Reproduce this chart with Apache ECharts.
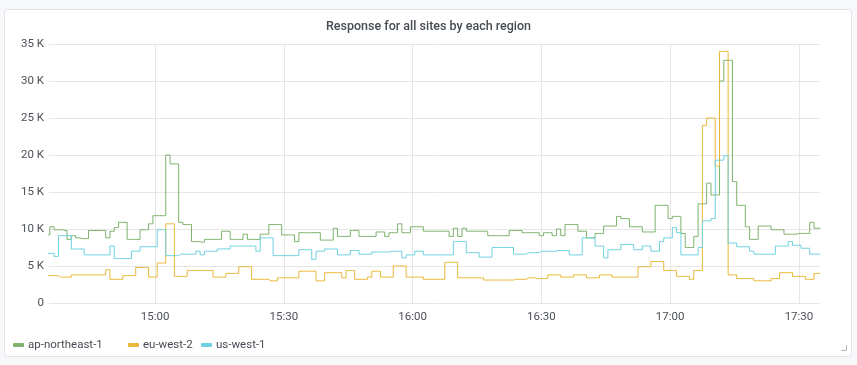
<!DOCTYPE html>
<html>
<head>
<meta charset="utf-8">
<script src="https://cdn.jsdelivr.net/npm/echarts@6/dist/echarts.min.js"></script>
<style>
html,body{margin:0;padding:0;background:#f7f8fa;}
#c{width:857px;height:365px;}
</style>
</head>
<body>
<div id="c"></div>
<script>
// Time grid: one sample per minute starting at 14:35
const startTime = '14:35';
const stepMinutes = 1;
const seriesNames = ['ap-northeast-1', 'eu-west-2', 'us-west-1'];
const xTickLabels = ['15:00', '15:30', '16:00', '16:30', '17:00', '17:30'];
const yTicks = [0, 5000, 10000, 15000, 20000, 25000, 30000, 35000];

const apNortheast1 = [
  9200,10300,9900,9900,9800,8600,9100,8800,8700,8700,
  9800,9800,9800,9800,8800,9700,10200,10900,10900,8600,
  8600,8600,9900,9900,10700,11800,11800,11800,20000,18800,
  18800,10900,10600,10600,8300,8300,8200,8600,8600,8600,
  8600,9700,9700,8600,8600,8600,9300,8600,8600,8600,
  9300,9300,10600,10600,10600,9200,9200,9200,8300,9500,
  9500,9500,9500,9500,8500,8500,8500,10100,9000,9000,
  9000,9800,9800,9000,9000,9000,9000,9600,9600,9000,
  9500,9500,10700,9500,9500,10300,10300,10300,9700,9700,
  9700,9700,9700,9700,9000,10100,9000,10100,9700,9700,
  9700,9700,9700,9100,9100,9100,9100,9100,9800,9800,
  9800,9500,9500,9500,9500,9100,9500,9500,9100,10000,
  9100,10600,10600,10600,9700,9700,8800,8800,9400,9400,
  10400,10400,10400,11700,11400,11400,10300,10300,10300,9600,
  9600,9600,13200,13200,13200,11400,11700,11700,9400,7500,
  7500,9000,13400,13400,16200,14600,14600,30000,32800,32800,
  16400,13200,13200,10300,8600,8600,10400,10400,10400,9900,
  9900,9900,9300,9300,9300,9400,9400,9400,10900,10100,10100
];
const euWest2 = [
  3700,3700,3700,3500,3500,3500,3800,3800,3800,3800,
  3800,3800,3800,3800,4500,3200,3200,3200,3700,3700,
  3700,4800,4800,4800,3500,3500,5400,5400,10700,10700,
  3600,3600,3600,4400,4400,4400,4400,4400,4400,3500,
  3500,3500,4000,4000,4000,4900,4900,4900,3200,3200,
  3200,3200,3000,3000,3400,3400,3400,3400,3400,4300,
  4300,4300,4300,3000,3000,4100,4100,4100,4100,3400,
  4400,4400,3200,3200,3200,3500,4300,4300,3500,3500,
  3500,5000,5000,5000,3500,3500,3500,3500,3200,3200,
  3200,3200,3200,5500,5500,5500,3400,3400,3400,3400,
  3400,3400,3100,3100,3100,3100,3100,3100,3100,3200,
  3200,3200,3400,3400,3300,3300,3300,3800,3800,3800,
  3500,3500,3500,3800,3800,3800,3400,3400,3400,3800,
  3800,3800,3500,3500,3500,3500,3500,3500,4900,4900,
  4900,5600,5600,5600,4400,4400,4400,3600,3600,3600,
  3200,4400,4400,24000,25000,25000,18500,34000,34000,3800,
  3800,3300,3300,3300,3300,3000,3000,3000,3000,3300,
  3300,4100,4100,4100,3600,3600,3600,3200,3200,4000,4000
];
const usWest1 = [
  6700,6700,6300,9100,9100,9100,7300,7300,7300,6500,
  6500,6500,6500,6500,6500,7700,6000,6000,6000,6000,
  7000,7000,7600,7600,7600,7600,9900,9900,6400,6400,
  6400,6600,6600,6600,6600,7000,6500,7000,7000,7000,
  7300,7300,7300,7700,7700,7700,7700,7700,7700,7000,
  8800,8800,8800,6400,6400,6400,6400,6400,6400,7200,
  7200,7200,5900,7000,7000,7300,7300,7300,6500,6500,
  6500,7100,7100,6600,6600,6600,6900,6900,6900,6900,
  7000,7000,7000,6100,6500,6500,7000,7000,6500,6500,
  6500,6500,6500,6500,6500,8300,8300,8300,6800,6800,
  6800,6200,6200,6200,7500,7500,7500,7500,7500,6600,
  6600,6600,6800,6800,6800,7000,7000,7000,7000,7100,
  7100,7100,6500,6500,6500,8800,8800,8800,7700,7700,
  6100,7200,7200,7200,7900,7900,7900,7200,7200,7700,
  7700,7000,7000,8300,8800,8800,10200,9500,6500,6500,
  6500,6500,7500,11100,11100,11400,19300,19300,19900,8100,
  8100,7600,7600,7600,7000,6600,6600,6600,6600,6600,
  7700,7700,7700,8300,7800,7800,7400,7400,6600,6600,6600
];

const colors = ['#7EB26D', '#EAB839', '#6ED0E0'];
function hm(s) { const p = s.split(':'); return (+p[0]) * 60 + (+p[1]); }
function fmt(m) { const h = Math.floor(m / 60), mm = Math.round(m - h * 60); return h + ':' + (mm < 10 ? '0' : '') + mm; }
const base = hm(startTime);
const tickMinutes = xTickLabels.map(hm);
function toPairs(arr) { return arr.map((v, i) => [base + i * stepMinutes, v]); }
const allSeries = [apNortheast1, euWest2, usWest1];

const chart = echarts.init(document.getElementById('c'), null, {renderer: 'canvas'});
const FONT = 'Roboto, "Noto Sans", sans-serif';
const legendLefts = [8, 123, 196];
chart.setOption({
  animation: false,
  backgroundColor: '#f7f8fa',
  color: colors,
  graphic: [
    {type: 'rect', z: -10, shape: {x: 4.5, y: 9.5, width: 847, height: 347, r: 3},
     style: {fill: '#ffffff', stroke: '#dfe2e7', lineWidth: 1}},
    {type: 'polyline', z: 10, shape: {points: [[846.5, 345], [846.5, 350.5], [841, 350.5]]},
     style: {stroke: '#b8bcc2', lineWidth: 1, fill: null}}
  ],
  title: {
    text: 'Response for all sites by each region',
    left: 'center', top: 15,
    textStyle: {fontFamily: FONT, fontSize: 12.5, fontWeight: 500, color: '#464c54'}
  },
  legend: seriesNames.map((name, k) => ({
    left: legendLefts[k], top: 334,
    icon: 'roundRect', itemWidth: 11, itemHeight: 4, itemGap: 10,
    textStyle: {fontFamily: FONT, fontSize: 11.5, color: '#464c54', padding: [0, 0, 0, -1]},
    data: [name]
  })),
  grid: {left: 49, right: 37, top: 44, bottom: 62, containLabel: false},
  xAxis: {
    type: 'value',
    min: base + 0.3,
    max: base + 179.9,
    axisLine: {show: false},
    axisTick: {show: false, customValues: tickMinutes},
    axisLabel: {customValues: tickMinutes, formatter: v => fmt(v),
                fontFamily: FONT, fontSize: 11.5, color: '#4b4f56', margin: 8},
    splitLine: {show: true, lineStyle: {color: '#e6e6e6', width: 1}}
  },
  yAxis: {
    type: 'value',
    min: yTicks[0], max: yTicks[yTicks.length - 1], interval: yTicks[1] - yTicks[0],
    axisLine: {show: false},
    axisTick: {show: false},
    axisLabel: {fontFamily: FONT, fontSize: 11.5, color: '#4b4f56', margin: 5,
                formatter: v => v === 0 ? '0' : (v / 1000) + ' K'},
    splitLine: {lineStyle: {color: '#e6e6e6', width: 1}}
  },
  series: seriesNames.map((name, k) => ({
    name: name,
    type: 'line',
    step: 'middle',
    data: toPairs(allSeries[k]),
    showSymbol: false,
    symbol: 'none',
    lineStyle: {width: 1, color: colors[k]},
    itemStyle: {color: colors[k]},
    clip: true
  }))
});
</script>
</body>
</html>
